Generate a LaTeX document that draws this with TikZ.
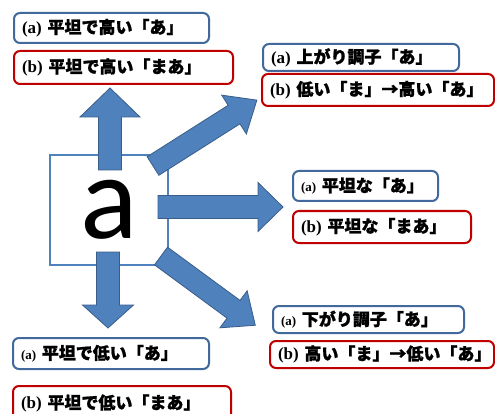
\documentclass[tikz,border=0pt]{standalone}
\usepackage{fontspec}
\newfontfamily\jpfont{Noto Sans CJK JP}[BoldFeatures={FakeBold=1.2}]
\newfontfamily\latfont{Liberation Serif}
\newfontfamily\bigsans{Carlito}
\definecolor{arrowblue}{RGB}{79,129,189}
\definecolor{arrowedge}{RGB}{56,93,138}
\definecolor{boxblue}{RGB}{65,105,155}
\definecolor{boxred}{RGB}{192,0,0}
\newcommand\lbl[2]{{\latfont\bfseries #1}~#2}
\newcommand\lbls[2]{{\latfont\bfseries\fontsize{13}{15}\selectfont #1}~#2}
% x y angle length headlength halfhead halfshaft
\newcommand\fatarrow[7]{%
  \begin{scope}[shift={(#1,#2)},rotate=#3]
    \draw[fatarrowstyle] (0,-#7) -- ({#4-#5},-#7) -- ({#4-#5},-#6) -- (#4,0)
      -- ({#4-#5},#6) -- ({#4-#5},#7) -- (0,#7) -- cycle;
  \end{scope}}
\tikzset{
  fatarrowstyle/.style={fill=arrowblue, draw=arrowedge, line width=0.8pt, line join=miter},
  lblbox/.style={rounded corners=6pt, line width=2pt, fill=white, anchor=north west,
    inner xsep=8pt, inner ysep=0pt, align=left,
    font=\jpfont\bfseries\fontsize{17}{19}\selectfont},
  bluebox/.style={lblbox, draw=boxblue},
  redbox/.style={lblbox, draw=boxred},
  centerbox/.style={draw=arrowblue, line width=1.5pt, fill=white, minimum width=118pt,
    minimum height=110pt, inner sep=0pt, font=\bigsans\fontsize{120}{120}\selectfont}
}
\begin{document}
\begin{tikzpicture}[x=1pt,y=-1pt]
\useasboundingbox (0,0) rectangle (495,414);
\clip (0,0) rectangle (495,414);
\fill[white] (0,0) rectangle (495,414);

\node[centerbox] (c) at (109,210) {a};

\fatarrow{110}{170}{90}{82}{29}{30}{11.5}
\fatarrow{108}{252}{-90}{76}{23}{25.5}{11.5}
\fatarrow{158}{207}{0}{125}{25}{24.5}{11.5}
\fatarrow{153}{166}{32.4}{123}{27}{23}{11}
\fatarrow{161}{256}{-36.3}{117}{27}{23}{11}

\node[bluebox, minimum height=30pt, text width=179pt] (t1) at (13,12) {\lbl{(a)}{平坦で高い「あ」}};
\node[redbox, minimum height=33pt, text width=203pt] (t2) at (13,50) {\lbl{(b)}{平坦で高い「まあ」}};
\node[bluebox, minimum height=27pt, text width=180pt] (t3) at (262,43) {\lbl{(a)}{上がり調子「あ」}};
\node[redbox, minimum height=32pt, text width=216pt] (t4) at (261,73) {\lbl{(b)}{低い「ま」→高い「あ」}};
\node[bluebox, minimum height=30pt, text width=129pt] (t5) at (292,170) {\lbls{(a)}{平坦な「あ」}};
\node[redbox, minimum height=32pt, text width=162pt] (t6) at (292,210) {\lbl{(b)}{平坦な「まあ」}};
\node[bluebox, minimum height=27pt, text width=175pt] (t7) at (272,305) {\lbls{(a)}{下がり調子「あ」}};
\node[redbox, minimum height=27pt, text width=208pt] (t8) at (269,340) {\lbl{(b)}{高い「ま」→低い「あ」}};
\node[bluebox, minimum height=31pt, text width=180pt] (t9) at (12,337) {\lbls{(a)}{平坦で低い「あ」}};
\node[redbox, minimum height=35pt, text width=202pt] (t10) at (12,385) {\lbl{(b)}{平坦で低い「まあ」}};
\end{tikzpicture}
\end{document}
